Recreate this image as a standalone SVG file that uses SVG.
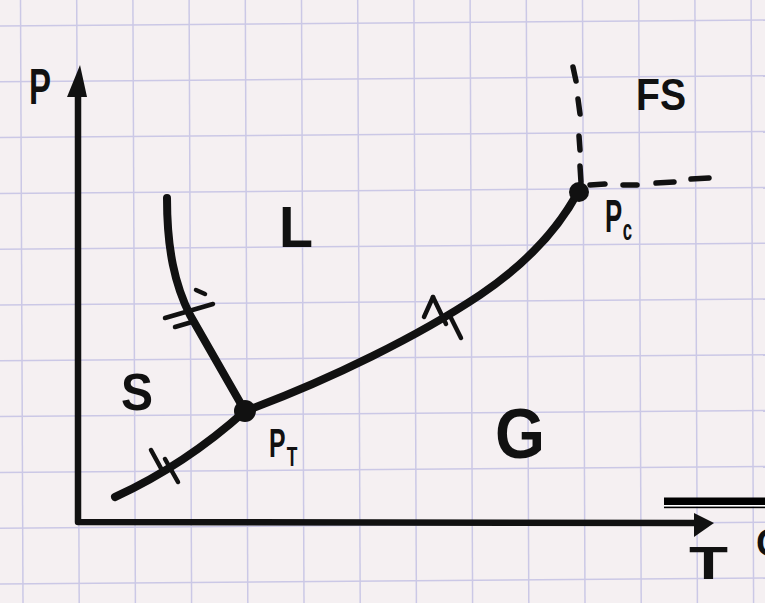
<svg xmlns="http://www.w3.org/2000/svg" width="765" height="603" viewBox="0 0 765 603">
<style>
.grid line{stroke:#cbc8e6;stroke-width:1.5}
.ink{fill:none;stroke:#111;stroke-linecap:round;stroke-linejoin:round}
.curve{stroke-width:8}
.axis{stroke-width:6.5}
.hatch{stroke-width:4.5}
.dash{stroke-width:5.5}
.lbl{font-family:"Liberation Sans",Arial,sans-serif;font-weight:bold;fill:#111}
</style>
<rect width="765" height="603" fill="#f5f0f2"/>
<g id="grid" class="grid">
<line x1="20.5" y1="0" x2="23" y2="603"/>
<line x1="76.7" y1="0" x2="79.2" y2="603"/>
<line x1="132.9" y1="0" x2="135.4" y2="603"/>
<line x1="189.1" y1="0" x2="191.6" y2="603"/>
<line x1="245.3" y1="0" x2="247.8" y2="603"/>
<line x1="301.5" y1="0" x2="304" y2="603"/>
<line x1="357.7" y1="0" x2="360.2" y2="603"/>
<line x1="413.9" y1="0" x2="416.4" y2="603"/>
<line x1="470.1" y1="0" x2="472.6" y2="603"/>
<line x1="526.3" y1="0" x2="528.8" y2="603"/>
<line x1="582.5" y1="0" x2="585" y2="603"/>
<line x1="638.7" y1="0" x2="641.2" y2="603"/>
<line x1="694.9" y1="0" x2="697.4" y2="603"/>
<line x1="751.1" y1="0" x2="753.6" y2="603"/>
<line x1="0" y1="26" x2="765" y2="20"/>
<line x1="0" y1="81.8" x2="765" y2="75.8"/>
<line x1="0" y1="137.6" x2="765" y2="131.6"/>
<line x1="0" y1="193.4" x2="765" y2="187.4"/>
<line x1="0" y1="249.2" x2="765" y2="243.2"/>
<line x1="0" y1="305" x2="765" y2="299"/>
<line x1="0" y1="360.8" x2="765" y2="354.8"/>
<line x1="0" y1="416.6" x2="765" y2="410.6"/>
<line x1="0" y1="472.4" x2="765" y2="466.4"/>
<line x1="0" y1="528.2" x2="765" y2="522.2"/>
<line x1="0" y1="584" x2="765" y2="578"/>
</g>
<g id="axes">
<path class="ink axis" d="M78,96 L78,522 L696,523"/>
<polygon points="80,65 67,97 87,97" fill="#111"/>
<polygon points="694,513 714,523 694,537" fill="#111"/>
</g>
<g id="connectors">
<path class="ink curve" d="M115,497 Q185,465 245,411"/>
<path class="ink curve" d="M245,411 C330,380 420,335 480,295 C520,268 555,235 578,192"/>
<path class="ink curve" d="M167,198 C167,250 175,285 190,315 L245,411"/>
<g class="ink hatch">
<line x1="165" y1="318" x2="213" y2="304"/>
<line x1="175" y1="327" x2="192" y2="322"/>
<line x1="196" y1="290" x2="205" y2="294"/>
<line x1="151" y1="450" x2="163" y2="472"/>
<line x1="165" y1="459" x2="178" y2="482"/>
<line x1="424" y1="317" x2="433" y2="297"/>
<line x1="433" y1="297" x2="446" y2="324"/>
<line x1="449" y1="314" x2="461" y2="338"/>
</g>
<g class="ink dash">
<line x1="573" y1="67" x2="576" y2="81"/>
<line x1="578" y1="99" x2="580" y2="114"/>
<line x1="579" y1="136" x2="580" y2="150"/>
<line x1="580" y1="166" x2="581" y2="182"/>
<line x1="590" y1="185" x2="605" y2="184"/>
<line x1="623" y1="185" x2="637" y2="185"/>
<line x1="656" y1="183" x2="674" y2="182"/>
<line x1="691" y1="179" x2="709" y2="178"/>
</g>
</g>
<g id="PT"><circle cx="245" cy="411" r="11" fill="#111"/>
<text class="lbl" x="269" y="457" font-size="40" transform="translate(269 457) scale(0.62 1) translate(-269 -457)">P<tspan font-size="28" dx="2" dy="9">T</tspan></text></g>
<g id="Pc"><circle cx="579" cy="192" r="10" fill="#111"/>
<text class="lbl" x="605" y="232" font-size="46" transform="translate(605 232) scale(0.56 1) translate(-605 -232)">P<tspan font-size="30" dx="1" dy="8">c</tspan></text></g>
<g id="labels">
<text class="lbl" x="29" y="104" font-size="50" textLength="22" lengthAdjust="spacingAndGlyphs">P</text>
<text class="lbl" x="636" y="110" font-size="44" textLength="50" lengthAdjust="spacingAndGlyphs">FS</text>
<text class="lbl" x="279" y="247" font-size="57" textLength="34" lengthAdjust="spacingAndGlyphs">L</text>
<text class="lbl" x="121" y="410" font-size="52" textLength="32" lengthAdjust="spacingAndGlyphs">S</text>
<text class="lbl" x="495" y="458" font-size="70" textLength="50" lengthAdjust="spacingAndGlyphs">G</text>
<text class="lbl" x="689" y="579" font-size="46" textLength="39" lengthAdjust="spacingAndGlyphs">T</text>
</g>
<g id="edge">
<rect x="664" y="497.5" width="101" height="7.5" fill="#000"/>
<rect x="664" y="505" width="101" height="1.6" fill="#fff"/>
<rect x="664" y="506.6" width="101" height="1.6" fill="#000"/>
<text class="lbl" x="756" y="556" font-size="38" fill="#000">C</text>
</g>
</svg>
